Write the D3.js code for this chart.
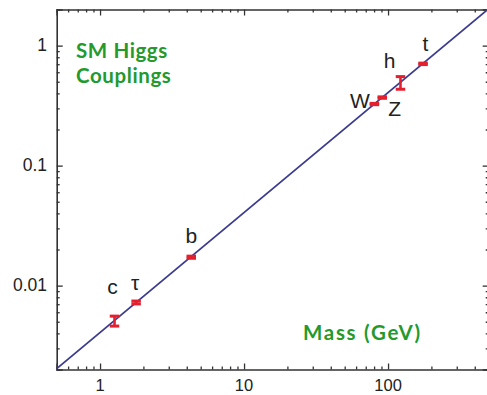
<!DOCTYPE html>
<html>
<head>
<meta charset="utf-8">
<script src="https://cdn.jsdelivr.net/npm/d3@7"></script>
<style>
html,body{margin:0;padding:0;background:#fff;}
svg{display:block;}
</style>
</head>
<body>
<svg id="chart" width="487" height="395"></svg>
<script>
// ---- data ----
const particles = ["c", "τ", "b", "W", "Z", "h", "t"];
const masses    = [1.26, 1.78, 4.3, 80.4, 91.2, 122, 175];
const couplings = [0.00513, 0.00724, 0.0172, 0.326, 0.369, 0.49, 0.705];
const errLow    = [0.00460, 0.00704, 0.0169, 0.322, 0.364, 0.433, 0.695];
const errHigh   = [0.00557, 0.00744, 0.0176, 0.330, 0.374, 0.552, 0.715];
const vev = 246; // coupling line y = m / v
const xTickValues = [1, 10, 100];
const xTickLabels = ["1", "10", "100"];
const yTickValues = [1, 0.1, 0.01];
const yTickLabels = ["1", "0.1", "0.01"];
const xDomain = [0.5, 500];
const yDomain = [0.002, 2];

(function () {
const svg = d3.select("#chart");
const pLeft = 56.7, pRight = 488.7, pTop = 9.5, pBottom = 369.5;
const x = d3.scaleLog().domain(xDomain).range([pLeft, pRight]);
const y = d3.scaleLog().domain(yDomain).range([pBottom, pTop]);

const axisColor = "#333";
const tickFont = "'Liberation Sans', Arial, sans-serif";

function logTicks(domain) {
  const out = [];
  const lo = Math.floor(Math.log10(domain[0])), hi = Math.ceil(Math.log10(domain[1]));
  for (let e = lo; e <= hi; e++) {
    for (let k = 1; k <= 9; k++) {
      const v = k * Math.pow(10, e);
      if (v >= domain[0] * 0.999 && v <= domain[1] * 1.001) out.push(v);
    }
  }
  return out;
}
const isMajor = v => Math.abs(Math.log10(v) - Math.round(Math.log10(v))) < 1e-6;

const g = svg.append("g");

function drawAxis(axisGen, transform, ticks) {
  const a = g.append("g").attr("transform", transform)
    .call(axisGen.tickValues(ticks).tickFormat("").tickSizeOuter(0).tickSize(6));
  a.selectAll(".tick line").attr("stroke", axisColor).attr("stroke-width", 1.3);
  a.select(".domain").attr("stroke", axisColor).attr("stroke-width", 1.6);
  return a;
}
const xt = logTicks(xDomain), yt = logTicks(yDomain);

const ab = drawAxis(d3.axisTop(x), `translate(0,${pBottom})`, xt);
ab.selectAll(".tick line").attr("y2", d => isMajor(d) ? -6 : -3);
const at = drawAxis(d3.axisBottom(x), `translate(0,${pTop})`, xt);
at.selectAll(".tick line").attr("y2", d => isMajor(d) ? 6 : 3);
const al = drawAxis(d3.axisRight(y), `translate(${pLeft},0)`, yt);
al.selectAll(".tick line").attr("x2", d => isMajor(d) ? 6 : 3);
const ar = drawAxis(d3.axisLeft(y), `translate(${pRight},0)`, yt);
ar.selectAll(".tick line").attr("x2", d => isMajor(d) ? -6 : -3);

g.append("g").selectAll("text").data(xTickValues).join("text")
  .attr("x", d => x(d)).attr("y", 390.5)
  .attr("text-anchor", "middle")
  .attr("font-family", tickFont).attr("font-size", 16.5).attr("fill", "#222")
  .text((d, i) => xTickLabels[i]);
g.append("g").selectAll("text").data(yTickValues).join("text")
  .attr("x", 47).attr("y", d => y(d) + 5.8)
  .attr("text-anchor", "end")
  .attr("font-family", tickFont).attr("font-size", 17.5).attr("fill", "#222")
  .text((d, i) => yTickLabels[i]);

g.append("path")
  .datum(xDomain.map(m => [m, m / vev]))
  .attr("d", d3.line().x(d => x(d[0])).y(d => y(d[1])))
  .attr("stroke", "#3b3b90").attr("stroke-width", 1.8).attr("fill", "none");

const red = "#e5202e";
const capW = 9.5;
const pts = particles.map((p, i) => ({p, m: masses[i], c: couplings[i], lo: errLow[i], hi: errHigh[i]}));
const eb = g.append("g").selectAll("g").data(pts).join("g");
eb.append("line")
  .attr("x1", d => x(d.m)).attr("x2", d => x(d.m))
  .attr("y1", d => y(d.hi)).attr("y2", d => y(d.lo))
  .attr("stroke", red).attr("stroke-width", 2.6);
eb.append("line")
  .attr("x1", d => x(d.m) - capW / 2).attr("x2", d => x(d.m) + capW / 2)
  .attr("y1", d => y(d.hi)).attr("y2", d => y(d.hi))
  .attr("stroke", red).attr("stroke-width", 3);
eb.append("line")
  .attr("x1", d => x(d.m) - capW / 2).attr("x2", d => x(d.m) + capW / 2)
  .attr("y1", d => y(d.lo)).attr("y2", d => y(d.lo))
  .attr("stroke", red).attr("stroke-width", 3);

const labelOffsets = {
  "c": [-2, -26], "τ": [-1, -12], "b": [0, -14], "W": [-14.5, 4],
  "Z": [12.5, 18], "h": [-11, -15], "t": [2.5, -13]
};
g.append("g").selectAll("text").data(pts).join("text")
  .attr("x", d => x(d.m) + labelOffsets[d.p][0])
  .attr("y", d => y(d.c) + labelOffsets[d.p][1])
  .attr("text-anchor", "middle")
  .attr("font-family", tickFont).attr("font-size", 21).attr("fill", "#222")
  .text(d => d.p);

const green = "#24992c";
const gFont = "Lato, 'Open Sans', sans-serif";
const ann = g.append("g").attr("font-family", gFont).attr("font-size", 20.5)
  .attr("font-weight", 700).attr("fill", green).attr("letter-spacing", 0.6);
const title = ann.append("text").attr("x", 76).attr("y", 58);
title.append("tspan").attr("x", 76).attr("dy", 0).text("SM Higgs");
title.append("tspan").attr("x", 76).attr("dy", 25).text("Couplings");
ann.append("text").attr("x", 303).attr("y", 340).attr("letter-spacing", 1.7).text("Mass (GeV)");
})();
</script>
</body>
</html>
